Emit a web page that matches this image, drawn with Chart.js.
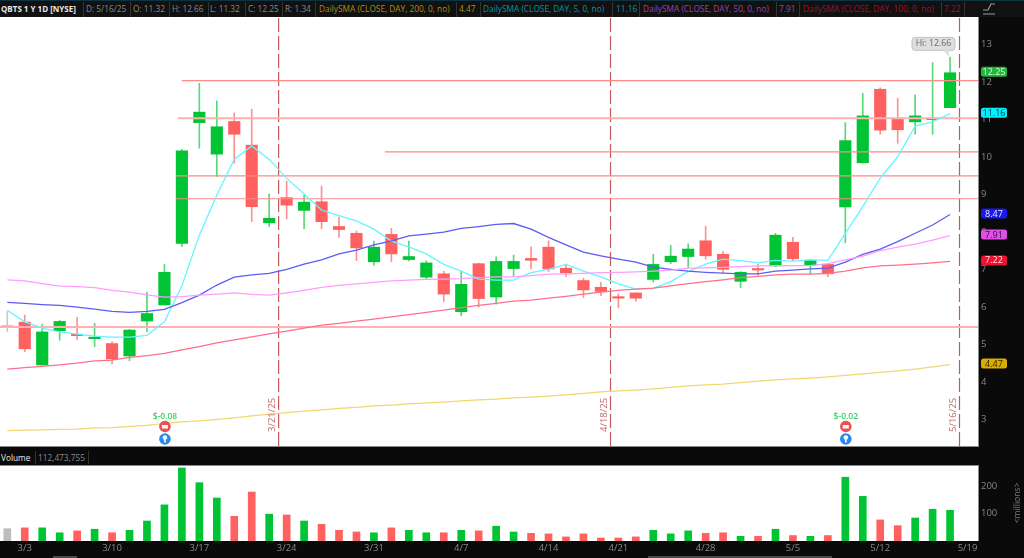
<!DOCTYPE html>
<html>
<head>
<meta charset="utf-8">
<title>QBTS 1 Y 1D</title>
<script src="https://cdn.jsdelivr.net/npm/chart.js@4"></script>
<style>
  html, body { margin: 0; padding: 0; background: #0a0a0a; overflow: hidden; }
  #page { position: relative; width: 1024px; height: 558px; background: #0a0a0a; font-family: "Open Sans", sans-serif; }
  canvas { position: absolute; left: 0; }
  #prix { top: 17px; }
  #volume { top: 466px; }
  .bar { position: absolute; left: 0; width: 1024px; background: #0a0a0a; }
  .t { position: absolute; top: 2px; height: 13px; line-height: 13px; font-size: 8.3px; white-space: nowrap; color: #8a8a8a; }
  .sep { position: absolute; top: 1px; width: 1px; height: 15px; background: #333; }
  .trait { position: absolute; left: 0; width: 979px; height: 1px; background: #8a8a8a; }
  .scroll { position: absolute; top: 556px; height: 2px; background: #4a4a4a; }
</style>
</head>
<body>
<div id="page">
  <div class="bar" style="top:0;height:17px;background:#111;border-top:1px solid #0a3344;box-sizing:border-box">
    <span class="t" style="left:1px;top:1px;color:#e8e8e8;font-weight:700;font-size:8px">QBTS 1 Y 1D [NYSE]</span><span class="sep" style="left:83px"></span>
    <span class="t" style="left:86px;top:1px">D: 5/16/25</span><span class="sep" style="left:130px"></span>
    <span class="t" style="left:133px;top:1px">O: 11.32</span><span class="sep" style="left:169px"></span>
    <span class="t" style="left:172px;top:1px">H: 12.66</span><span class="sep" style="left:208px"></span>
    <span class="t" style="left:210px;top:1px">L: 11.32</span><span class="sep" style="left:245px"></span>
    <span class="t" style="left:248px;top:1px">C: 12.25</span><span class="sep" style="left:282px"></span>
    <span class="t" style="left:285px;top:1px">R: 1.34</span><span class="sep" style="left:315px"></span>
    <span class="t" style="left:319px;top:1px;color:#b08f10">DailySMA (CLOSE, DAY, 200, 0, no)</span><span class="sep" style="left:456px"></span>
    <span class="t" style="left:459px;top:1px;color:#b08f10">4.47</span><span class="sep" style="left:480px"></span>
    <span class="t" style="left:483px;top:1px;color:#0098a4">DailySMA (CLOSE, DAY, 5, 0, no)</span><span class="sep" style="left:612px"></span>
    <span class="t" style="left:616px;top:1px;color:#0098a4">11.16</span><span class="sep" style="left:639px"></span>
    <span class="t" style="left:643px;top:1px;color:#a040b0">DailySMA (CLOSE, DAY, 50, 0, no)</span><span class="sep" style="left:776px"></span>
    <span class="t" style="left:779px;top:1px;color:#a040b0">7.91</span><span class="sep" style="left:799px"></span>
    <span class="t" style="left:803px;top:1px;color:#a01030">DailySMA (CLOSE, DAY, 100, 0, no)</span><span class="sep" style="left:941px"></span>
    <span class="t" style="left:944px;top:1px;color:#a01030">7.22</span><span class="sep" style="left:964px"></span>
  </div>
  <canvas id="prix" width="1024" height="429"></canvas>
  <div class="trait" style="top:446px"></div>
  <div class="bar" style="top:447px;height:18px">
    <span class="t" style="left:1px;top:4px;color:#e8e8e8">Volume</span><span class="sep" style="left:35px;top:4px;height:13px"></span>
    <span class="t" style="left:38px;top:4px">112,473,755</span><span class="sep" style="left:88px;top:4px;height:13px"></span>
  </div>
  <div class="trait" style="top:465px"></div>
  <canvas id="volume" width="1024" height="92"></canvas>
  <div class="scroll" style="left:53px;width:24px"></div>
  <div class="scroll" style="left:648px;width:184px"></div>
  <svg style="position:absolute;left:982px;top:0" width="16" height="17">
    <path d="M1 14H13M1 10H6L9 4H13" stroke="#9a9a9a" stroke-width="1.2" fill="none"/>
  </svg>
</div>

<script>
// bougies
var opens = [5.49,5.60,4.46,5.37,5.28,5.16,5.03,4.70,5.63,6.06,7.70,10.92,10.08,10.95,10.32,8.25,8.92,8.58,8.81,8.15,7.97,7.21,7.94,7.27,6.80,6.89,5.88,7.16,6.27,7.03,7.30,7.60,7.04,6.71,6.53,6.26,6.38,6.74,7.21,7.35,7.77,7.41,6.69,7.02,7.10,7.73,7.12,7.14,8.67,9.85,11.81,11.04,10.94,11.00,11.32];
var closes = [5.47,4.89,5.34,5.62,5.24,5.20,4.62,5.39,5.83,6.93,10.17,11.20,10.81,10.61,8.68,8.37,8.72,8.80,8.28,8.07,7.58,7.60,7.42,7.35,7.18,6.35,6.61,6.23,7.22,7.22,7.25,7.02,6.92,6.46,6.42,6.24,6.24,7.14,7.36,7.55,7.37,7.01,6.93,6.99,7.92,7.29,7.25,6.89,10.44,11.10,10.72,10.73,11.10,11.04,12.25];
var highs = [5.88,5.79,5.55,5.65,5.73,5.57,5.08,5.41,6.40,7.14,10.21,11.97,11.50,11.18,11.28,9.02,9.36,8.98,9.23,8.40,8.03,7.76,8.10,7.76,7.24,6.96,6.96,7.17,7.34,7.39,7.61,7.77,7.15,6.77,6.66,6.35,6.38,7.41,7.65,7.69,8.16,7.48,6.95,7.15,7.97,7.86,7.28,7.17,10.92,11.70,11.85,11.57,11.66,12.52,12.66];
var lows = [5.35,4.81,4.46,5.12,5.14,4.95,4.49,4.57,5.35,6.06,7.61,10.24,9.48,9.84,8.28,8.15,8.35,8.09,8.09,7.86,7.24,7.11,7.21,7.23,6.76,6.15,5.77,6.00,6.08,6.83,7.02,6.95,6.81,6.26,6.31,5.98,6.16,6.67,7.16,7.06,7.28,6.92,6.52,6.85,7.08,7.24,6.88,6.81,7.72,9.84,10.61,10.37,10.61,10.61,11.32];
var volumes = [45,48,48,30,37,43,30,39,73,132,267,213,157,90,179,98,95,73,61,39,33,30,48,39,30,30,39,37,54,33,28,26,15,26,11,11,15,39,26,37,28,30,17,17,43,20,17,20,233,163,77,56,84,116,112];

// moyennes mobiles
var sma5 = [5.92,5.61,5.44,5.34,5.28,5.23,5.20,5.20,5.25,5.61,6.57,7.92,8.99,9.94,10.30,9.94,9.44,9.02,8.59,8.44,8.30,8.08,7.76,7.61,7.42,7.14,6.96,6.75,6.72,6.72,6.92,7.01,7.14,6.96,6.81,6.62,6.48,6.50,6.68,6.95,7.15,7.28,7.24,7.18,7.25,7.23,7.26,7.25,7.97,8.68,9.44,10.01,10.83,10.94,11.16];
var smaBlue = [6.13,6.10,6.07,6.05,6.00,5.95,5.89,5.86,5.89,5.94,6.12,6.32,6.59,6.80,6.86,6.90,7.01,7.15,7.26,7.42,7.52,7.66,7.77,7.90,7.95,8.00,8.10,8.15,8.21,8.23,8.08,7.86,7.66,7.47,7.37,7.28,7.20,7.07,7.01,6.96,6.93,6.91,6.89,6.89,6.96,6.99,7.02,7.04,7.20,7.41,7.55,7.75,7.97,8.19,8.47];
var sma50 = [6.73,6.70,6.63,6.56,6.55,6.52,6.45,6.40,6.33,6.27,6.28,6.32,6.35,6.38,6.34,6.32,6.38,6.45,6.53,6.58,6.62,6.66,6.70,6.72,6.74,6.75,6.76,6.79,6.81,6.81,6.84,6.88,6.89,6.90,6.92,6.93,6.94,6.96,6.99,7.04,7.05,7.06,7.08,7.10,7.11,7.11,7.11,7.16,7.26,7.36,7.51,7.60,7.68,7.79,7.91];
var sma100 = [4.35,4.39,4.42,4.46,4.51,4.57,4.59,4.66,4.71,4.77,4.86,4.95,5.05,5.13,5.21,5.29,5.36,5.44,5.52,5.57,5.63,5.68,5.74,5.80,5.86,5.92,5.99,6.05,6.10,6.16,6.19,6.24,6.29,6.35,6.40,6.45,6.48,6.51,6.57,6.63,6.68,6.73,6.79,6.82,6.86,6.88,6.88,6.90,6.96,7.05,7.10,7.12,7.15,7.18,7.22];
var sma200 = [2.71,2.72,2.73,2.74,2.75,2.78,2.79,2.82,2.85,2.90,2.94,2.97,3.01,3.05,3.10,3.15,3.19,3.23,3.26,3.30,3.33,3.37,3.39,3.42,3.45,3.47,3.50,3.53,3.55,3.58,3.60,3.63,3.66,3.70,3.74,3.77,3.79,3.82,3.86,3.90,3.93,3.95,3.99,4.03,4.06,4.09,4.11,4.14,4.18,4.22,4.26,4.30,4.35,4.41,4.47];

// axe du temps : une etiquette par semaine
var weekTicks = [1,6,11,16,21,26,31,35,40,45,50,55];
var weekLabels = ['3/3','3/10','3/17','3/24','3/31','4/7','4/14','4/21','4/28','5/5','5/12','5/19'];
var priceTicks = [3,4,5,6,7,8,9,10,11,12,13];
var volumeTicks = [100,200];

// niveaux horizontaux traces a la main et lignes de dates
var levels = [12.04,11.04,10.14,9.50,8.89,5.47];
var levelStarts = [9.99,9.77,21.63,9.66,9.66,-0.42];
var levelWidths = [1.2,2,1.2,1.2,1.2,2];
var levelColors = ['#ff8a8a','#ffb0b0','#ff8a8a','#ff8a8a','#ff8a8a','#ffb0b0'];
var markerPos = [15.54,34.55,54.54];
var markerLabels = ['3/21/25','4/18/25','5/16/25'];
var earningsPos = [9,48];
var earningsLabels = ['$-0.08','$-0.02'];

// etiquettes de valeur sur l'axe de droite
var badgeValues = [12.25,11.16,8.47,7.91,7.22,4.47];
var badgeColors = ['#1fb83c','#00f0ff','#1a1aee','#e050e8','#f01030','#d8ac00'];
var badgeText = ['#d8f8d8','#053a40','#e8e8ff','#3a1040','#ffe0e0','#302400'];

var xMin = -0.418, xMax = 55.6;
var GREEN = '#00c433', RED = '#ff6060', GREY = '#bdbdbd';

var indices = closes.map(function(c, i) { return i; });

function candleColor(i) {
  if (i == 0) return GREY;
  return closes[i] >= opens[i] ? GREEN : RED;
}
function wickColor(i) {
  if (i == 0) return '#c8c8c8';
  return closes[i] >= opens[i] ? '#58d878' : '#ff9090';
}
function lineSet(values, color, w) {
  return {
    type: 'line', order: 1,
    data: indices.map(function(i) { return {x: i, y: values[i]}; }),
    borderColor: color, borderWidth: w, pointRadius: 0, tension: 0
  };
}

var fondBlanc = {
  id: 'fondBlanc',
  beforeDraw: function(chart) {
    var a = chart.chartArea, ctx = chart.ctx;
    ctx.save();
    ctx.fillStyle = '#ffffff';
    ctx.fillRect(a.left, a.top, a.right - a.left, a.bottom - a.top);
    ctx.fillStyle = '#8a8a8a';
    ctx.fillRect(a.right, a.top, 1, a.bottom - a.top);
    ctx.restore();
  }
};

function roundBox(ctx, x, y, w, h, r) {
  ctx.beginPath();
  ctx.roundRect(x, y, w, h, r);
}

var annotations = {
  id: 'annotations',
  afterDatasetsDraw: function(chart) {
    var ctx = chart.ctx, a = chart.chartArea, sx = chart.scales.x, sy = chart.scales.y;
    ctx.save();
    ctx.textBaseline = 'middle';

    // dates le long des lignes verticales
    ctx.font = '9.5px "Open Sans"';
    ctx.fillStyle = '#c06a6a';
    markerPos.forEach(function(v, i) {
      ctx.save();
      ctx.translate(sx.getPixelForValue(v) - 6, a.bottom - 14);
      ctx.rotate(-Math.PI / 2);
      ctx.textAlign = 'left';
      ctx.fillText(markerLabels[i], 0, 0);
      ctx.restore();
    });

    // resultats trimestriels
    earningsPos.forEach(function(v, i) {
      var x = sx.getPixelForValue(v) + 0.5;
      ctx.font = '600 8.5px "Open Sans"';
      ctx.textAlign = 'center';
      ctx.fillStyle = '#35d060';
      ctx.fillText(earningsLabels[i], x, a.bottom - 29);
      ctx.fillStyle = '#ee5050';
      ctx.beginPath(); ctx.arc(x, a.bottom - 19.5, 5.8, 0, Math.PI * 2); ctx.fill();
      ctx.fillStyle = '#ffffff';
      ctx.fillRect(x - 3, a.bottom - 21, 6, 3.5);
      ctx.fillStyle = '#2a88f0';
      ctx.beginPath(); ctx.arc(x, a.bottom - 7, 5.8, 0, Math.PI * 2); ctx.fill();
      ctx.fillStyle = '#ffffff';
      ctx.beginPath(); ctx.arc(x, a.bottom - 8.5, 2.3, 0, Math.PI * 2); ctx.fill();
      ctx.fillRect(x - 0.8, a.bottom - 7, 1.6, 3.5);
    });

    // bulle du plus haut
    var last = closes.length - 1;
    var hx = sx.getPixelForValue(last), hy = sy.getPixelForValue(highs[last]);
    ctx.fillStyle = '#dedede';
    ctx.strokeStyle = '#c4c4c4';
    roundBox(ctx, 912, hy - 20, 43, 13, 3);
    ctx.fill(); ctx.stroke();
    ctx.beginPath();
    ctx.moveTo(hx - 7, hy - 7); ctx.lineTo(hx, hy); ctx.lineTo(hx - 2, hy - 7);
    ctx.closePath(); ctx.fill();
    ctx.font = '8.8px "Open Sans"';
    ctx.textAlign = 'center';
    ctx.fillStyle = '#6c6c6c';
    ctx.fillText('Hi: ' + highs[last], 933.5, hy - 13.5);

    // valeurs courantes a droite
    ctx.font = '9px "Open Sans"';
    badgeValues.forEach(function(v, i) {
      var y = sy.getPixelForValue(v) - 1;
      ctx.fillStyle = badgeColors[i];
      roundBox(ctx, a.right + 3, y - 5, 26, 10, 2.5);
      ctx.fill();
      ctx.fillStyle = badgeText[i];
      ctx.fillText(v.toFixed(2), a.right + 16, y + 0.5);
    });
    ctx.restore();
  }
};

var millions = {
  id: 'millions',
  afterDraw: function(chart) {
    var ctx = chart.ctx;
    ctx.save();
    ctx.translate(1018, 37);
    ctx.rotate(-Math.PI / 2);
    ctx.font = '8.5px "Open Sans"';
    ctx.fillStyle = '#7a7a7a';
    ctx.textAlign = 'center';
    ctx.textBaseline = 'middle';
    ctx.fillText('<millions>', 0, 0);
    ctx.restore();
  }
};

// pas de marge autour de la zone de trace
function noPadding(scale) {
  scale.paddingTop = 0;
  scale.paddingBottom = 0;
  scale.paddingLeft = 0;
  scale.paddingRight = 0;
}

function rightAxis(ticks, min, max) {
  return {
    position: 'right', min: min, max: max, offset: false,
    grid: {display: false, drawTicks: false},
    border: {display: false},
    afterBuildTicks: function(scale) {
      scale.ticks = ticks.map(function(v) { return {value: v}; });
    },
    afterFit: function(scale) {
      scale.width = 46;
      noPadding(scale);
    },
    ticks: {color: '#888888', font: {family: 'Open Sans', size: 9.5}, padding: 3, autoSkip: false}
  };
}

document.addEventListener('DOMContentLoaded', function() {
  var datasets = [];
  datasets.push({
    type: 'bar', order: 3, grouped: false, barThickness: 1,
    data: indices.map(function(i) { return {x: i, y: [lows[i], highs[i]]}; }),
    backgroundColor: indices.map(wickColor)
  });
  datasets.push({
    type: 'bar', order: 2, grouped: false, barThickness: 11.5, minBarLength: 1.5,
    data: indices.map(function(i) { return {x: i, y: [opens[i], closes[i]]}; }),
    backgroundColor: indices.map(candleColor)
  });
  datasets.push(lineSet(sma200, '#f2d670', 1.2));
  datasets.push(lineSet(sma100, '#ff6f8c', 1.3));
  datasets.push(lineSet(sma50, '#ff9dff', 1.3));
  datasets.push(lineSet(smaBlue, '#5c5cf4', 1.3));
  datasets.push(lineSet(sma5, '#66f4ff', 1.3));
  levels.forEach(function(v, i) {
    datasets.push({
      type: 'line', order: 1,
      data: [{x: levelStarts[i], y: v}, {x: xMax, y: v}],
      borderColor: levelColors[i], borderWidth: levelWidths[i], pointRadius: 0
    });
  });
  markerPos.forEach(function(v) {
    datasets.push({
      type: 'line', order: 1,
      data: [{x: v, y: 2.299}, {x: v, y: 13.736}],
      borderColor: '#c45a5a', borderWidth: 1.2, borderDash: [14, 4], pointRadius: 0
    });
  });

  new Chart(document.getElementById('prix'), {
    type: 'bar',
    data: {datasets: datasets},
    options: {
      responsive: false, animation: false, events: [],
      layout: {padding: 0},
      plugins: {legend: {display: false}, tooltip: {enabled: false}},
      scales: {
        x: {type: 'linear', min: xMin, max: xMax, offset: false, display: false},
        y: rightAxis(priceTicks, 2.299, 13.736)
      }
    },
    plugins: [fondBlanc, annotations]
  });

  new Chart(document.getElementById('volume'), {
    type: 'bar',
    data: {datasets: [{
      data: indices.map(function(i) { return {x: i, y: volumes[i]}; }),
      backgroundColor: indices.map(candleColor),
      barThickness: 7
    }]},
    options: {
      responsive: false, animation: false, events: [],
      layout: {padding: 0},
      plugins: {legend: {display: false}, tooltip: {enabled: false}},
      scales: {
        x: {
          type: 'linear', min: xMin, max: xMax, offset: false,
          grid: {display: false, drawTicks: false}, border: {display: false},
          afterBuildTicks: function(scale) {
            scale.ticks = weekTicks.map(function(v) { return {value: v}; });
          },
          afterFit: function(scale) {
            scale.height = 17;
            noPadding(scale);
          },
          ticks: {
            color: '#888888', font: {family: 'Open Sans', size: 9.5}, padding: 2,
            maxRotation: 0, autoSkip: false,
            callback: function(v) { return weekLabels[weekTicks.indexOf(v)]; }
          }
        },
        y: rightAxis(volumeTicks, 0, 274)
      }
    },
    plugins: [fondBlanc, millions]
  });
});
</script>
</body>
</html>
